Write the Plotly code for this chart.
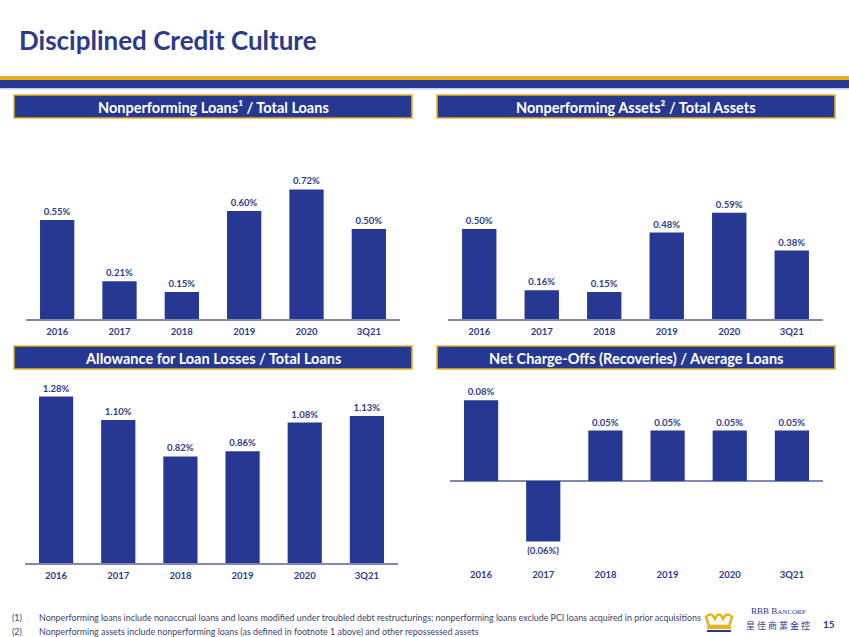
import plotly.graph_objects as go

W, H = 849, 637

# ---------------- data ----------------
categories = ["2016", "2017", "2018", "2019", "2020", "3Q21"]
npl_to_loans = [0.55, 0.21, 0.15, 0.60, 0.72, 0.50]
npa_to_assets = [0.50, 0.16, 0.15, 0.48, 0.59, 0.38]
allowance_to_loans = [1.28, 1.10, 0.82, 0.86, 1.08, 1.13]
nco_to_avg_loans = [0.08, -0.06, 0.05, 0.05, 0.05, 0.05]

title_text = "Disciplined Credit Culture"
panel_titles = [
    "Nonperforming Loans¹ / Total Loans",
    "Nonperforming Assets² / Total Assets",
    "Allowance for Loan Losses / Total Loans",
    "Net Charge-Offs (Recoveries) / Average Loans",
]
footnotes = [
    ("(1)", "Nonperforming loans include nonaccrual loans and loans modified under troubled debt restructurings; nonperforming loans exclude PCI loans acquired in prior acquisitions"),
    ("(2)", "Nonperforming assets include nonperforming loans (as defined in footnote 1 above) and other repossessed assets"),
]

NAVY = "#263892"
TXT = "#2B3A8C"
GOLD = "#E9B11E"
AXLINE = "#8288B3"
FONT = "Lato"


def px(x):
    return x / W


def py(y):
    return 1 - y / H


def fmt(v):
    return f"({abs(v):.2f}%)" if v < 0 else f"{v:.2f}%"


fig = go.Figure()

panels = [
    # values, x-range px, y bottom px, y top px, range
    (npl_to_loans, (26, 400), 319, 170, [0, 149 / 180]),
    (npa_to_assets, (448, 823), 319, 190, [0, 129 / 180]),
    (allowance_to_loans, (25, 398), 563, 385, [0, 178 / 130]),
    (nco_to_avg_loans, (450, 823), 564, 385, [-83 / 1010, 96 / 1010]),
]

for i, (vals, (x0, x1), yb, yt, rng) in enumerate(panels, start=1):
    sfx = "" if i == 1 else str(i)
    fig.add_trace(go.Bar(
        x=categories, y=vals,
        text=[fmt(v) for v in vals],
        textposition="outside",
        textfont=dict(family=FONT, size=9.5, color=TXT, weight="bold"),
        marker=dict(color=NAVY, line=dict(width=0)),
        cliponaxis=False,
        xaxis="x" + sfx, yaxis="y" + sfx,
        showlegend=False, hoverinfo="skip",
    ))
    is_br = i == 4
    fig.update_layout(**{
        "xaxis" + sfx: dict(
            domain=[px(x0), px(x1)], anchor="y" + sfx,
            showline=not is_br, linecolor=AXLINE, linewidth=1.5,
            showgrid=False, ticks="", fixedrange=True, ticklabelstandoff=3,
            tickfont=dict(family=FONT, size=9.5, color=TXT, weight="bold"),
        ),
        "yaxis" + sfx: dict(
            domain=[py(yb), py(yt)], anchor="x" + sfx, range=rng,
            visible=True, showticklabels=False, showgrid=False,
            zeroline=is_br, zerolinecolor=AXLINE, zerolinewidth=1.5,
            showline=False, ticks="", fixedrange=True,
        ),
    })

fig.update_layout(bargap=0.45)

shapes = []
annotations = []

# top band
shapes.append(dict(type="rect", xref="paper", yref="paper", x0=0, x1=1, y0=py(80), y1=py(76),
                   fillcolor=GOLD, line=dict(width=0), layer="above"))
shapes.append(dict(type="rect", xref="paper", yref="paper", x0=0, x1=1, y0=py(88), y1=py(80),
                   fillcolor=NAVY, line=dict(width=0), layer="above"))
shapes.append(dict(type="rect", xref="paper", yref="paper", x0=0, x1=1, y0=py(89.5), y1=py(88),
                   fillcolor="#C9CCE0", line=dict(width=0), layer="above"))

# title
annotations.append(dict(text=f"<b>{title_text}</b>", xref="paper", yref="paper",
                        x=px(17), y=py(40), xanchor="left", yanchor="middle", showarrow=False,
                        font=dict(family=FONT, size=26, color=TXT)))

# panel headers
header_boxes = [(14, 412, 95, 118), (437, 835, 95, 118), (14, 412, 346, 369), (437, 835, 346, 369)]
for (x0, x1, y0, y1), t in zip(header_boxes, panel_titles):
    shapes.append(dict(type="rect", xref="paper", yref="paper", x0=px(x0), x1=px(x1), y0=py(y1), y1=py(y0),
                       fillcolor=NAVY, line=dict(color=GOLD, width=1.5), layer="above"))
    annotations.append(dict(text=f"<b>{t}</b>", xref="paper", yref="paper",
                            x=px((x0 + x1) / 2), y=py((y0 + y1) / 2 + 0.5), xanchor="center", yanchor="middle",
                            showarrow=False, font=dict(family=FONT, size=14.5, color="white")))

# footnotes
for k, (num, txt) in enumerate(footnotes):
    yy = py(617 + 14 * k)
    annotations.append(dict(text=num, xref="paper", yref="paper", x=px(10), y=yy, xanchor="left",
                            yanchor="middle", showarrow=False, font=dict(family=FONT, size=8.9, color="#3A3F6E")))
    annotations.append(dict(text=txt, xref="paper", yref="paper", x=px(37), y=yy, xanchor="left",
                            yanchor="middle", showarrow=False, font=dict(family=FONT, size=8.9, color="#3A3F6E")))

# logo crown
def P(x, y):
    return f"{px(x):.5f},{py(y):.5f}"

crown = (f"M {P(709,626)} L {P(706,617)} Q {P(711,611)} {P(715,619)} Q {P(719,610)} {P(723,619)} "
         f"Q {P(727,611)} {P(732,617)} L {P(729,626)} Z")
shapes.append(dict(type="path", xref="paper", yref="paper", path=crown,
                   line=dict(color=GOLD, width=2.5), fillcolor="rgba(0,0,0,0)", layer="above"))
shapes.append(dict(type="rect", xref="paper", yref="paper", x0=px(707), x1=px(731), y0=py(629), y1=py(626.5),
                   fillcolor=GOLD, line=dict(width=0), layer="above"))
shapes.append(dict(type="rect", xref="paper", yref="paper", x0=px(707), x1=px(731), y0=py(632), y1=py(630),
                   fillcolor=NAVY, line=dict(width=0), layer="above"))

annotations.append(dict(text="RBB B<span style='font-size:7px'>ANCORP</span>", xref="paper", yref="paper",
                        x=px(778), y=py(611), xanchor="center", yanchor="middle", showarrow=False,
                        font=dict(family="Liberation Serif", size=9, color=TXT)))
annotations.append(dict(text="皇 佳 商 業 金 控", xref="paper", yref="paper",
                        x=px(778), y=py(625), xanchor="center", yanchor="middle", showarrow=False,
                        font=dict(family="Noto Sans CJK TC", size=9, color=TXT)))
annotations.append(dict(text="<b>15</b>", xref="paper", yref="paper",
                        x=px(829), y=py(624), xanchor="center", yanchor="middle", showarrow=False,
                        font=dict(family=FONT, size=10, color=TXT)))

fig.update_layout(
    width=W, height=H,
    margin=dict(l=0, r=0, t=0, b=0),
    paper_bgcolor="white", plot_bgcolor="white",
    shapes=shapes, annotations=annotations,
)

fig.write_html("out.html", config={"displayModeBar": False},
               post_script="document.body.style.margin='0';document.body.style.overflow='hidden';")
